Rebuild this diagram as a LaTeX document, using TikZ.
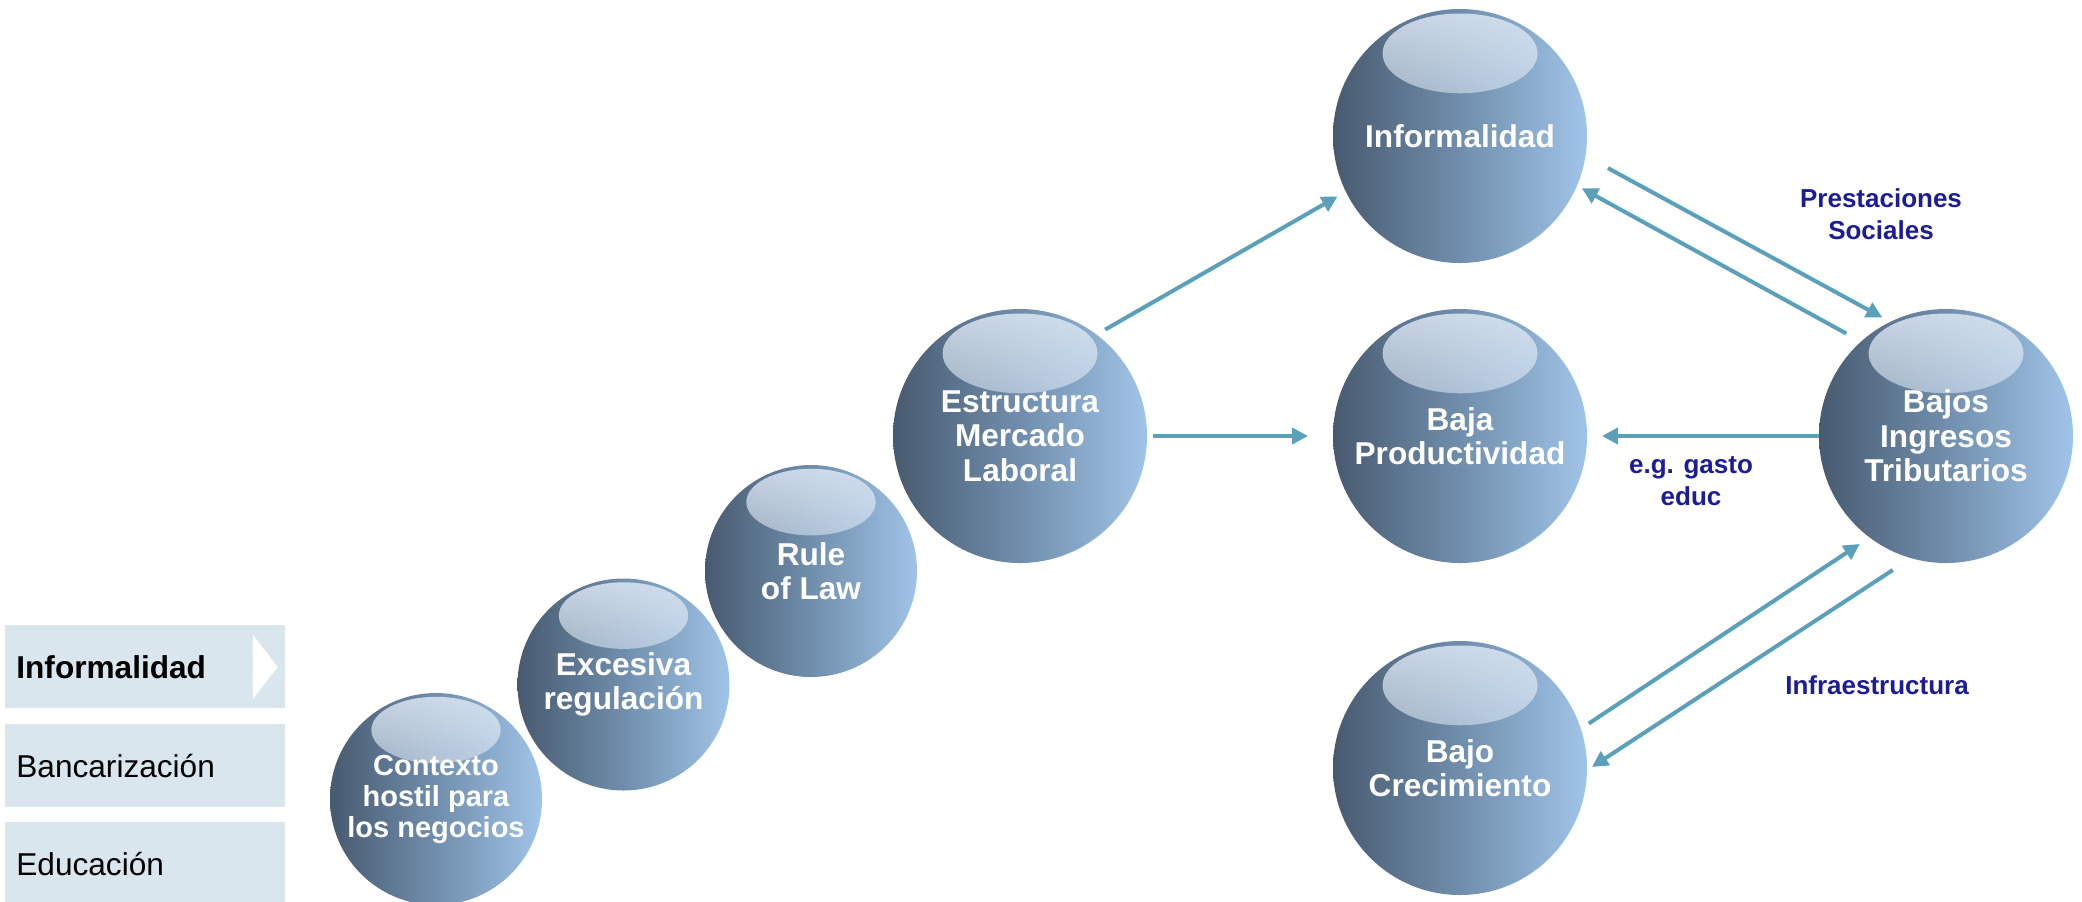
\documentclass[tikz,border=0pt]{standalone}
\usepackage{fontspec}
\setmainfont{Liberation Sans}
\usepackage{tikz}
\usetikzlibrary{arrows.meta,fadings}
\definecolor{ballleft}{RGB}{72,90,112}
\definecolor{ballmid}{RGB}{112,142,172}
\definecolor{ballright}{RGB}{160,196,232}
\definecolor{glosscol}{RGB}{222,233,245}
\definecolor{arrowblue}{RGB}{90,160,186}
\definecolor{labelblue}{RGB}{28,28,150}
\definecolor{tabfill}{RGB}{217,230,238}
\tikzfading[name=gloss,top color=transparent!15,bottom color=transparent!100]

\begin{document}
\begin{tikzpicture}[x=0.5pt,y=-0.5pt,
    ball/.style={circle,inner sep=0pt,outer sep=0pt,minimum size=#1,
      left color=ballleft,right color=ballright,middle color=ballmid,
      text=white,align=center,font=\fontsize{15.8pt}{17.3pt}\selectfont\bfseries,
      path picture={\fill[glosscol,path fading=gloss]
        ([yshift=0.325*#1]path picture bounding box.center)
        ellipse [x radius=0.305*#1,y radius=0.157*#1];}},
    arr/.style={draw=arrowblue,line width=2pt,-{Triangle[length=8pt,width=8pt]}},
    lab/.style={text=labelblue,align=center,font=\fontsize{13pt}{16pt}\selectfont\bfseries},
    tab/.style={fill=tabfill,anchor=north west,minimum height=41.5pt,text width=129pt,
      inner xsep=5.5pt,inner ysep=0pt,align=left,font=\fontsize{15.8pt}{17pt}\selectfont}]
  \useasboundingbox (0,0) rectangle (2082,901);

  % menu on the left
  \node[tab,font=\fontsize{15.8pt}{17pt}\selectfont\bfseries] (tab1) at (5,625) {Informalidad};
  \node[tab] (tab2) at (5,724) {Bancarización};
  \node[tab] (tab3) at (5,822) {Educación};
  \fill[white] ([xshift=-16.5pt,yshift=16pt]tab1.east) -- ([xshift=-4pt]tab1.east)
    -- ([xshift=-16.5pt,yshift=-16pt]tab1.east) -- cycle;

  % spheres
  \node[ball=106pt,font=\fontsize{14.5pt}{15.5pt}\selectfont\bfseries] (ctx) at (436,799) {Contexto\\hostil para\\los negocios};
  \node[ball=106pt] (reg) at (623.5,684.5) {Excesiva\\regulación};
  \node[ball=106pt] (law) at (811,571) {Rule\\of Law};
  \node[ball=127pt] (labor) at (1020,436) {Estructura\\Mercado\\Laboral};
  \node[ball=127pt] (inf) at (1460,136) {Informalidad};
  \node[ball=127pt] (prod) at (1460,436) {Baja\\Productividad};
  \node[ball=127pt] (crec) at (1460,768) {Bajo\\Crecimiento};
  \node[ball=127pt] (taxes) at (1946,436) {Bajos\\Ingresos\\Tributarios};

  % arrows
  \draw[arr,shorten <=5pt,shorten >=4.7pt] (labor.53) -- (inf.206);
  \draw[arr,shorten <=3pt,shorten >=12.5pt] (labor.east) -- (prod.west);
  \draw[arr,shorten >=7.5pt] (taxes.west) -- (prod.east);
  \draw[arr,shorten <=12.8pt,shorten >=4.6pt] (inf.-9) -- (taxes.116);
  \draw[arr,shorten <=8.4pt,shorten >=2.8pt] (taxes.132) -- (inf.-23);
  \draw[arr,shorten <=4.8pt,shorten >=5.9pt] (crec.18) -- (taxes.233);
  \draw[arr,shorten <=10.9pt,shorten >=3pt] (taxes.254) -- (crec.-1);
  %
  \node[lab] (prest) at (1881,214) {Prestaciones\\Sociales};
  \node[lab] (gasto) at (1691,481) {e.g. gasto\\educ};
  \node[lab] (infra) at (1877,685) {Infraestructura};
\end{tikzpicture}
\end{document}
